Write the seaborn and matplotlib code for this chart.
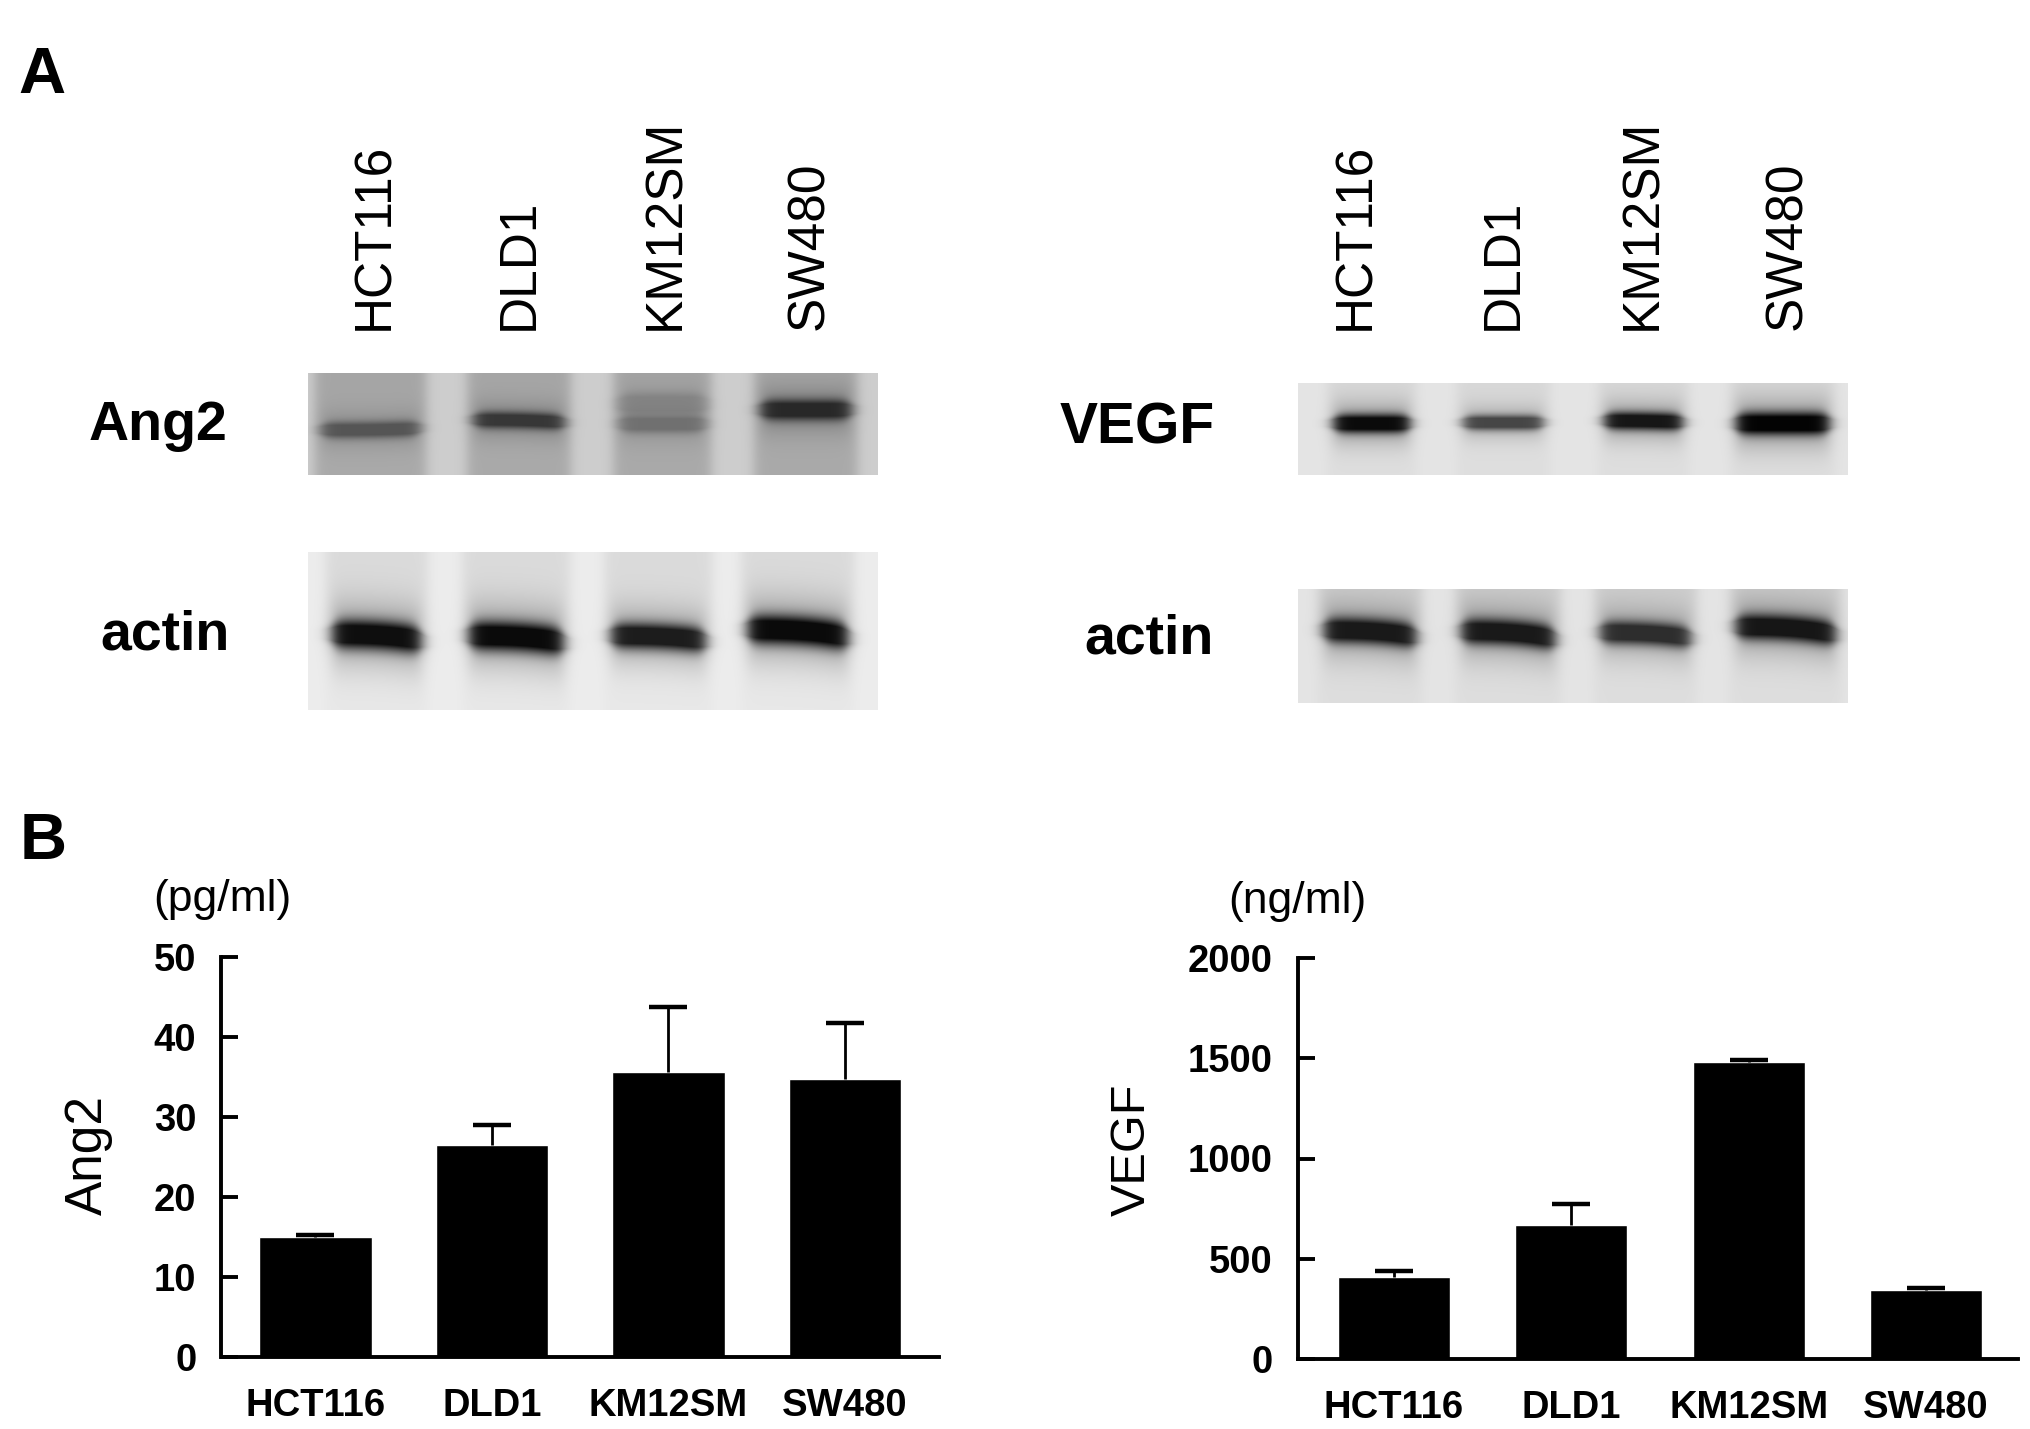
import numpy as np
import pandas as pd
import matplotlib
matplotlib.use('Agg')
import matplotlib.pyplot as plt
import seaborn as sns

W, H = 2031, 1429

# values
cell_lines = ['HCT116', 'DLD1', 'KM12SM', 'SW480']
ang2_values = [15.0, 26.5, 35.6, 34.7]
ang2_errors = [0.2, 2.5, 8.2, 7.0]
vegf_values = [410, 668, 1480, 342]
vegf_errors = [27, 106, 12, 13]
ang2_ticks = [0, 10, 20, 30, 40, 50]
vegf_ticks = [0, 500, 1000, 1500, 2000]

# gel bands, one row per band: x from, x to, y left, y right, thickness, darkest grey
ang2_bands = [[.011, .207, .56, .54, .080, 85],
              [.279, .461, .46, .49, .080, 55],
              [.536, .708, .30, .30, .110, 132],
              [.536, .708, .50, .50, .085, 112],
              [.783, .965, .36, .36, .100, 40]]
ang2_actin = [[.030, .210, .52, .57, .090, 14],
              [.270, .460, .53, .58, .090, 10],
              [.520, .710, .53, .57, .080, 28],
              [.760, .960, .49, .55, .090, 10]]
vegf_bands = [[.052, .215, .44, .44, .100, 10],
              [.288, .458, .43, .43, .080, 70],
              [.545, .712, .41, .43, .095, 22],
              [.785, .979, .44, .44, .120, 3]]
vegf_actin = [[.035, .226, .36, .43, .110, 25],
              [.285, .479, .37, .45, .110, 25],
              [.538, .726, .38, .44, .100, 45],
              [.785, .990, .33, .41, .110, 22]]

sns.set_theme(style='ticks')
plt.rcParams['font.family'] = ['Liberation Sans', 'DejaVu Sans']

fig = plt.figure(figsize=(W / 100, H / 100), dpi=100, facecolor='white')


def px_axes(x0, y0, x1, y1):
    return fig.add_axes([x0 / W, 1 - y1 / H, (x1 - x0) / W, (y1 - y0) / H])


def px_text(x, y, s, **kw):
    kw.setdefault('ha', 'center')
    kw.setdefault('va', 'center')
    kw.setdefault('color', 'black')
    fig.text(x / W, 1 - y / H, s, **kw)


def draw_blot(box, bands, bg, lane_grey, smear_below):
    # lighter gaps between lanes, dark soft bands with a halo inside them
    x0, y0, x1, y1 = box
    nx, ny = int(x1 - x0), int(y1 - y0)
    u = np.linspace(0, 1, nx)[None, :]
    v = np.linspace(0, 1, ny)[:, None]
    lanes = np.zeros((ny, nx))
    for lo, hi, yl, yr, thick, dark in bands:
        mask = 0.5 * (np.tanh((u - lo) / .012) - np.tanh((u - hi) / .012))
        t = np.clip((u - lo) / (hi - lo), 0, 1)
        centre = yl + (yr - yl) * t ** 3
        fade = 1 - (1 - smear_below) * np.clip((v - centre) / .15, 0, 1)
        lanes = np.maximum(lanes, mask * fade)
    img = bg - (bg - lane_grey) * lanes
    for lo, hi, yl, yr, thick, dark in bands:
        t = np.clip((u - lo) / (hi - lo), 0, 1)
        centre = yl + (yr - yl) * t ** 3  # bands stay flat and dip at the right end
        d = np.abs(v - centre)
        ends = 0.5 * (np.tanh((u - lo - .012) / .014) - np.tanh((u - hi + .012) / .014))
        local = thick * (0.5 + 0.5 * ends)  # rounded band ends
        core = np.exp(-(d / local) ** 2.2)
        halo = 0.3 * np.exp(-(d / (2.4 * thick)) ** 2)
        img = img + (dark - img) * np.clip(core + halo, 0, 1) * ends
    ax = px_axes(x0, y0, x1, y1)
    sns.heatmap(img, ax=ax, cmap='gray', vmin=0, vmax=255, cbar=False,
                xticklabels=False, yticklabels=False)
    ax.set_xlabel('')
    ax.set_ylabel('')


def draw_bars(box, xlim, ylim, values, errors, ticks, width):
    ax = px_axes(*box)
    df = pd.DataFrame({'line': cell_lines, 'value': values})
    sns.barplot(data=df, x='line', y='value', ax=ax, color='black', saturation=1,
                width=width, errorbar=None)
    _, caps, _ = ax.errorbar(range(len(values)), values, yerr=[np.zeros(len(errors)), errors],
                             fmt='none', ecolor='black', elinewidth=2, capsize=14, capthick=3.2)
    caps[0].set_visible(False)  # only the upper cap is drawn
    ax.set_xlim(*xlim)
    ax.set_ylim(*ylim)
    ax.set_yticks(ticks)
    ax.set_yticklabels([str(t) for t in ticks], fontsize=27.5, fontweight='bold')
    ax.set_xticks(range(len(cell_lines)))
    ax.set_xticklabels(cell_lines, fontsize=27.5, fontweight='bold')
    ax.tick_params(axis='y', direction='in', length=12, width=2.8, pad=18, colors='black')
    ax.tick_params(axis='x', length=0, pad=22, colors='black')
    ax.set_xlabel('')
    ax.set_ylabel('')
    ax.patch.set_alpha(0)
    sns.despine(ax=ax)
    for side in ['left', 'bottom']:
        ax.spines[side].set_linewidth(2.8)
        ax.spines[side].set_color('black')
    return ax


# panel A
draw_blot((308, 373, 878, 475), ang2_bands, 205, 165, 0.9)
draw_blot((308, 552, 878, 710), ang2_actin, 236, 218, 0.25)
draw_blot((1298, 383, 1848, 475), vegf_bands, 228, 215, 0.5)
draw_blot((1298, 589, 1848, 703), vegf_actin, 228, 205, 0.3)

for x, name in zip([375, 519, 666, 810], cell_lines):
    px_text(x, 330, name, fontsize=37, rotation=90, va='bottom')
for x, name in zip([1356, 1503, 1643, 1788], cell_lines):
    px_text(x, 330, name, fontsize=37, rotation=90, va='bottom')

px_text(158, 426, 'Ang2', fontsize=40, fontweight='bold')
px_text(165, 636, 'actin', fontsize=40, fontweight='bold')
px_text(1137, 429, 'VEGF', fontsize=41, fontweight='bold')
px_text(1149, 640, 'actin', fontsize=40, fontweight='bold')
px_text(42, 76, 'A', fontsize=47, fontweight='bold')
px_text(43, 842, 'B', fontsize=47, fontweight='bold')

# panel B
draw_bars((221.5, 957, 939, 1357), (-0.532, 3.533), (0, 50), ang2_values, ang2_errors,
          ang2_ticks, 0.638)
draw_bars((1298, 958, 2018, 1359), (-0.54, 3.518), (0, 2000), vegf_values, vegf_errors,
          vegf_ticks, 0.631)

px_text(88, 1155, 'Ang2', fontsize=37, rotation=90)
px_text(1132, 1150, 'VEGF', fontsize=35, rotation=90)
px_text(222, 900, '(pg/ml)', fontsize=32)
px_text(1297, 901, '(ng/ml)', fontsize=32)

fig.savefig('out.png', dpi=100, facecolor='white')
